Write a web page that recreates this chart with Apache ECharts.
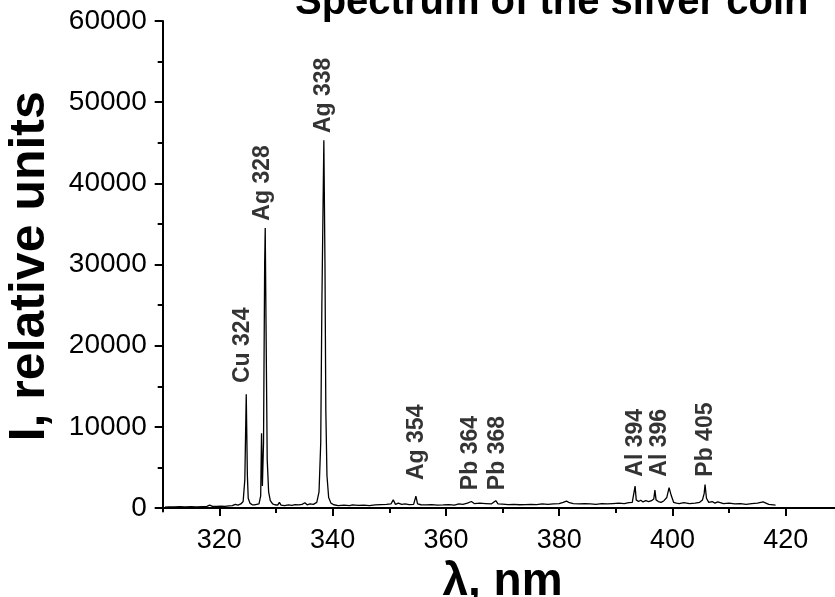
<!DOCTYPE html>
<html>
<head>
<meta charset="utf-8">
<script src="https://cdn.jsdelivr.net/npm/echarts@6/dist/echarts.min.js"></script>
<style>
html, body { margin: 0; padding: 0; background: #fff; }
#test0 { width: 835px; height: 597px; }
</style>
</head>
<body>
<div id="test0"></div>
<script>
var mytest = echarts.init(document.getElementById('test0'));
// spectrum (nm, relative units)
var wavelength = [310.4, 311, 312, 313, 314, 315, 316, 317, 317.8, 318.3, 318.8, 319.5, 320.3, 321, 321.7, 322.3, 322.8, 323.3, 323.8, 324.2, 324.5, 324.75, 324.95, 325.1, 325.4, 325.8, 326.2, 326.6, 327.0, 327.3, 327.45, 327.6, 327.8, 328.0, 328.1, 328.25, 328.45, 328.7, 329.0, 329.4, 329.8, 330.3, 330.6, 330.9, 331.5, 332.2, 332.8, 333.4, 334, 334.6, 335.1, 335.5, 336, 336.6, 337.2, 337.6, 337.9, 338.1, 338.45, 338.65, 338.8, 339.0, 339.3, 339.7, 340.2, 341, 342, 343, 343.5, 344.5, 345.5, 346.5, 347.5, 348.5, 349.5, 350.3, 350.7, 351.1, 351.6, 352.2, 352.8, 353.5, 354.3, 354.7, 355.0, 355.6, 356.5, 357.5, 358.5, 359.5, 360.5, 361.5, 362.3, 363, 363.8, 364.5, 365, 366, 367, 368, 368.8, 369.2, 370, 371, 372, 373, 374, 375, 376, 377, 378, 379, 380, 380.7, 381.3, 381.8, 382.5, 383.5, 384.5, 385.5, 386.5, 387.5, 388.5, 389.5, 390.5, 391.5, 392.3, 392.9, 393.2, 393.4, 393.6, 394, 394.4, 394.8, 395.3, 395.8, 396.3, 396.7, 396.9, 397.1, 397.5, 398, 398.5, 399, 399.4, 399.8, 400.2, 400.7, 401.2, 402, 403, 404, 404.8, 405.3, 405.6, 405.75, 406, 406.4, 407, 407.5, 408, 409, 410, 411, 412, 413, 414, 415, 416, 416.5, 417, 418.2];
var intensity = [120, 150, 130, 160, 140, 170, 150, 180, 200, 350, 200, 190, 230, 210, 260, 300, 450, 350, 500, 800, 3500, 14000, 4000, 1200, 600, 400, 380, 450, 500, 1500, 9200, 2700, 8000, 30000, 34500, 22000, 6000, 2000, 900, 500, 400, 350, 700, 350, 300, 380, 330, 420, 380, 450, 650, 400, 500, 450, 700, 2000, 8000, 25000, 45300, 30000, 12000, 4000, 1300, 600, 400, 300, 350, 300, 380, 320, 350, 300, 380, 420, 450, 500, 1000, 450, 600, 450, 500, 420, 450, 1450, 500, 400, 380, 420, 350, 380, 420, 350, 500, 450, 600, 800, 550, 600, 550, 500, 900, 500, 480, 420, 450, 400, 420, 450, 420, 500, 450, 500, 550, 700, 850, 650, 550, 500, 550, 500, 450, 550, 500, 550, 600, 550, 650, 700, 900, 2700, 1000, 800, 950, 750, 900, 800, 900, 1100, 2200, 1000, 800, 700, 900, 1300, 2500, 1500, 700, 600, 550, 650, 550, 600, 700, 1000, 1800, 2900, 1200, 700, 800, 600, 750, 550, 600, 500, 550, 450, 550, 600, 750, 600, 450, 350];
// peak annotations: name, wavelength and intensity where the text starts
var peakNames = ['Cu 324', 'Ag 328', 'Ag 338', 'Ag 354', 'Pb 364', 'Pb 368', 'Al 394', 'Al 396', 'Pb 405'];
var peakX = [324.05, 327.7, 338.5, 354.8, 364.3, 369.2, 393.5, 397.8, 405.9];
var peakY = [15400, 35400, 46200, 3450, 2200, 2200, 3860, 3860, 3860];
var xMajor = [320, 340, 360, 380, 400, 420];
var xMinor = [330, 350, 370, 390, 410];
var yMajor = [0, 10000, 20000, 30000, 40000, 50000, 60000];
var yMinor = [5000, 15000, 25000, 35000, 45000, 55000];

var font = '"Liberation Sans", Arial, sans-serif';
var spectrum = wavelength.map(function (w, i) { return [w, intensity[i]]; });
var peaks = peakNames.map(function (n, i) { return [peakX[i], peakY[i], n]; });
var plain = function (v) { return String(v); };

var option = {
    animation: false,
    title: {
        text: 'Spectrum of the silver coin',
        left: 290,
        top: -22,
        textStyle: { fontFamily: font, fontSize: 40, fontWeight: 'bold', color: '#000' }
    },
    grid: { left: 162.7, top: 21, width: 679.7, height: 490.5, outerBoundsMode: 'none', containLabel: false },
    xAxis: [{
        type: 'value',
        min: 310,
        max: 430,
        name: 'λ, nm',
        nameLocation: 'middle',
        nameGap: 37,
        nameTextStyle: { fontFamily: font, fontSize: 46, fontWeight: 'bold', color: '#000' },
        axisLine: { lineStyle: { color: '#000', width: 2 } },
        axisTick: { customValues: xMajor, length: 8, lineStyle: { color: '#000', width: 2 } },
        axisLabel: { customValues: xMajor, formatter: plain, margin: 16, fontFamily: font, fontSize: 27, color: '#000' },
        splitLine: { show: false }
    }, {
        type: 'value',
        min: 310,
        max: 430,
        position: 'bottom',
        axisLine: { show: false },
        axisTick: { customValues: xMinor, length: 5, lineStyle: { color: '#000', width: 2 } },
        axisLabel: { show: false },
        splitLine: { show: false }
    }],
    yAxis: [{
        type: 'value',
        min: -431,
        max: 60000,
        position: 'left',
        name: 'I, relative units',
        nameLocation: 'middle',
        nameRotate: 90,
        nameGap: 107,
        nameTextStyle: { fontFamily: font, fontSize: 50, fontWeight: 'bold', color: '#000' },
        axisLine: { lineStyle: { color: '#000', width: 2 } },
        axisTick: { customValues: yMajor, length: 8, lineStyle: { color: '#000', width: 2 } },
        axisLabel: { customValues: yMajor, formatter: plain, margin: 16, fontFamily: font, fontSize: 28, color: '#000' },
        splitLine: { show: false }
    }, {
        type: 'value',
        min: -431,
        max: 60000,
        position: 'left',
        axisLine: { show: false },
        axisTick: { customValues: yMinor, length: 5, lineStyle: { color: '#000', width: 2 } },
        axisLabel: { show: false },
        splitLine: { show: false }
    }],
    series: [{
        type: 'line',
        data: spectrum,
        showSymbol: false,
        symbol: 'none',
        lineStyle: { color: '#000', width: 1.3 }
    }, {
        type: 'scatter',
        data: peaks,
        symbolSize: 0,
        itemStyle: { color: '#000' },
        label: {
            show: true,
            position: 'inside',
            rotate: 90,
            align: 'left',
            verticalAlign: 'middle',
            formatter: function (p) { return p.data[2]; },
            fontFamily: font,
            fontSize: 23,
            fontWeight: 'bold',
            color: '#000',
            textBorderWidth: 0,
            textBorderColor: 'transparent'
        }
    }]
};
mytest.setOption(option);
</script>
</body>
</html>
